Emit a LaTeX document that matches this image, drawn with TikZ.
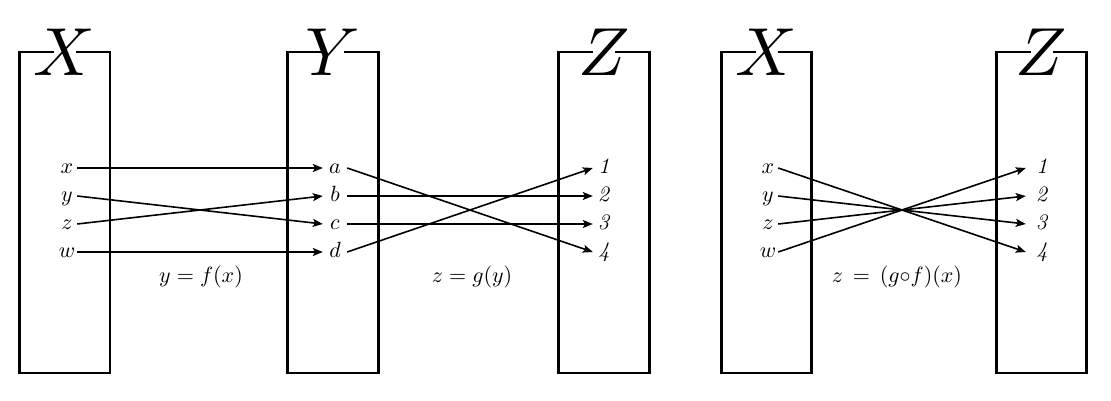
\documentclass[tikz,border=0pt]{standalone}
\usepackage{graphicx}
\usetikzlibrary{arrows.meta}
\newcommand{\bigtitle}[1]{\scalebox{6.8}{$#1$}}
\newcommand{\smalllab}[1]{\scalebox{2.2}{#1}}
\begin{document}
\begin{tikzpicture}[x=1pt,y=-1pt,
  boxline/.style={line width=2.7pt, line join=miter},
  big/.style={inner sep=0pt, anchor=base},
  lab/.style={inner sep=0pt, text height=12pt, text depth=2pt, minimum width=#1},
  lab/.default=20pt,
  conn/.style={line width=1.6pt, -{Stealth[length=10pt,width=8pt,inset=2.2pt]}},
  eqn/.style={inner sep=0pt, anchor=base}]
\useasboundingbox (0,0) rectangle (1111,401);

% boxes with titles
\foreach \c in {64.75,333,604,766.5,1041.5}{
  \draw[boxline] (\c+11,52) -- (\c+45.25,52) -- (\c+45.25,373) -- (\c-45.25,373) -- (\c-45.25,52) -- (\c-11,52);
}
\node[big] (tX1) at (64.75,76) {\bigtitle{X}};
\node[big] (tY)  at (333,76) {\bigtitle{Y}};
\node[big] (tZ1) at (604,76) {\bigtitle{Z}};
\node[big] (tX2) at (766.5,76) {\bigtitle{X}};
\node[big] (tZ2) at (1041.5,76) {\bigtitle{Z}};

% first diagram: X -> Y -> Z
\node[lab] (lx) at (67,168) {\smalllab{$x$}};
\node[lab] (ly) at (67,196) {\smalllab{$y$}};
\node[lab] (lz) at (67,224) {\smalllab{$z$}};
\node[lab] (lw) at (67,252) {\smalllab{$w$}};

\node[lab=24pt] (ya) at (335,168) {\smalllab{$a$}};
\node[lab=24pt] (yb) at (335,196) {\smalllab{$b$}};
\node[lab=24pt] (yc) at (335,224) {\smalllab{$c$}};
\node[lab=24pt] (yd) at (335,252) {\smalllab{$d$}};

\node[lab=22pt] (z1) at (604,168) {\smalllab{\textit{1}}};
\node[lab=22pt] (z2) at (604,196) {\smalllab{\textit{2}}};
\node[lab=22pt] (z3) at (604,224) {\smalllab{\textit{3}}};
\node[lab=22pt] (z4) at (604,252) {\smalllab{\textit{4}}};

\draw[conn] (lx.east) -- (ya.west);
\draw[conn] (ly.east) -- (yc.west);
\draw[conn] (lz.east) -- (yb.west);
\draw[conn] (lw.east) -- (yd.west);

\draw[conn] (ya.east) -- (z4.west);
\draw[conn] (yb.east) -- (z2.west);
\draw[conn] (yc.east) -- (z3.west);
\draw[conn] (yd.east) -- (z1.west);

\node[eqn] (eq1) at (201,282) {\smalllab{$y = f(x)$}};
\node[eqn] (eq2) at (472,282) {\smalllab{$z = g(y)$}};

% composed diagram
\node[lab] (rx) at (768,168) {\smalllab{$x$}};
\node[lab] (ry) at (768,196) {\smalllab{$y$}};
\node[lab] (rz) at (768,224) {\smalllab{$z$}};
\node[lab] (rw) at (768,252) {\smalllab{$w$}};

\node[lab=32pt] (r1) at (1042,168) {\smalllab{\textit{1}}};
\node[lab=32pt] (r2) at (1042,196) {\smalllab{\textit{2}}};
\node[lab=32pt] (r3) at (1042,224) {\smalllab{\textit{3}}};
\node[lab=32pt] (r4) at (1042,252) {\smalllab{\textit{4}}};

\draw[conn] (rx.east) -- (r4.west);
\draw[conn] (ry.east) -- (r3.west);
\draw[conn] (rz.east) -- (r2.west);
\draw[conn] (rw.east) -- (r1.west);

\node[eqn] (eq3) at (897,282) {\smalllab{$z\,=\,(g{\circ}f)(x)$}};
\end{tikzpicture}
\end{document}
